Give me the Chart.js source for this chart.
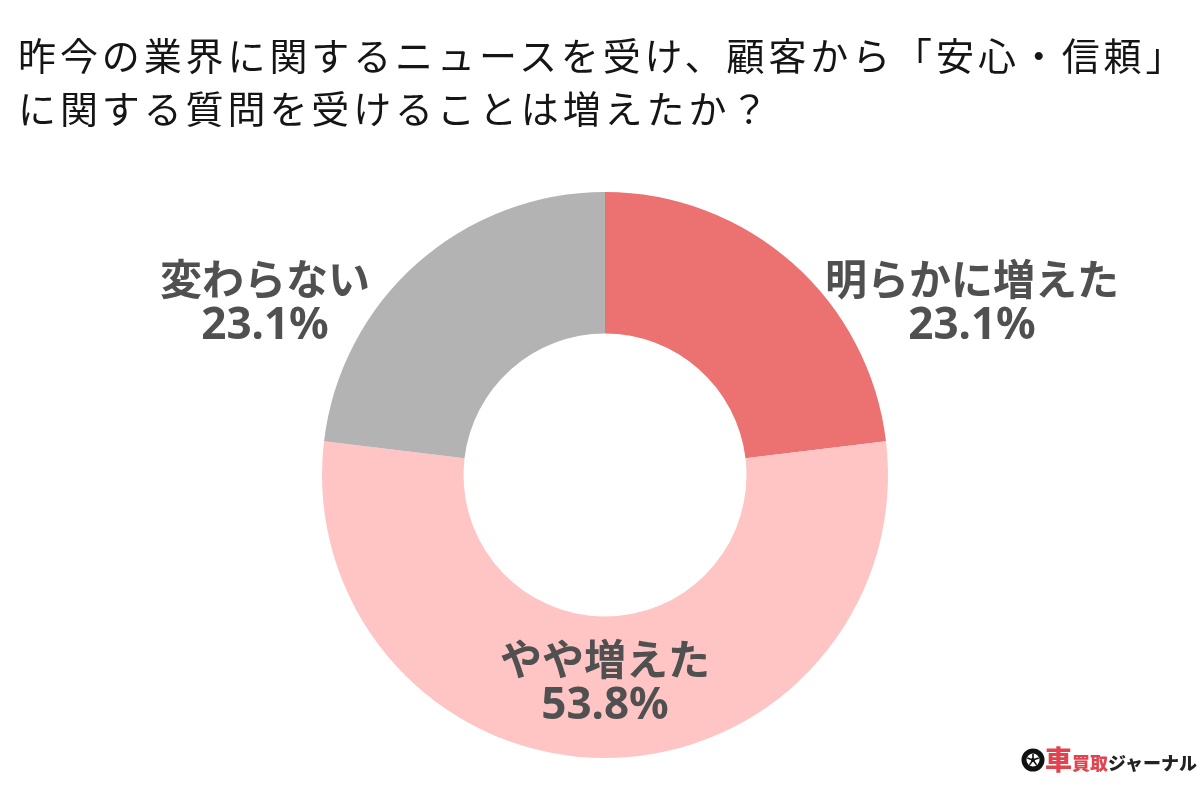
<!DOCTYPE html>
<html lang="ja">
<head>
<meta charset="utf-8">
<style>
  html, body { margin: 0; padding: 0; background: #fff; }
  #wrap { position: relative; width: 1200px; height: 800px; overflow: hidden; }
  canvas { position: absolute; left: 0; top: 0; }
  .title { position: absolute; left: 18px; top: 27px; font: 400 38px/53px "Noto Sans CJK JP"; color: #151515; white-space: nowrap; letter-spacing: 3.9px; }
  .brand { position: absolute; left: 1045px; top: 742px; height: 34px; line-height: 34px; font-family: "Noto Sans CJK JP"; font-weight: 900; color: #222; white-space: nowrap; }
  .brand b { color: #e2434f; font-size: 27px; font-weight: 900; }
  .brand i { color: #e2434f; font-size: 18px; font-style: normal; }
  .brand span { font-size: 18px; }
  .brand svg { position: absolute; left: -24px; top: 6px; }
</style>
<script src="https://cdn.jsdelivr.net/npm/chart.js@4"></script>
</head>
<body>
<div id="wrap">
  <canvas id="chart" width="1200" height="800"></canvas>
  <div class="title" id="title"></div>
  <div class="brand">
    <svg width="24" height="24" viewBox="0 0 24 24"><circle cx="12" cy="12" r="9" fill="none" stroke="#111" stroke-width="5"/><path d="M12 12V6M12 12L17.7 10.1M12 12L15.5 16.9M12 12L8.5 16.9M12 12L6.3 10.1" stroke="#111" stroke-width="1.6"/><circle cx="12" cy="12" r="2" fill="#111"/></svg>
    <b>車</b><i>買取</i><span>ジャーナル</span>
  </div>
</div>
<script>
const titleLines = ['昨今の業界に関するニュースを受け、顧客から「安心・信頼」', 'に関する質問を受けることは増えたか？'];
const categories = ['明らかに増えた', 'やや増えた', '変わらない'];
const values = [23.1, 53.8, 23.1];
const colors = ['#ec7171', '#ffc4c4', '#b3b3b3'];
const labelSpots = [[972, 279], [605, 659], [265, 279]];

document.getElementById('title').innerHTML = titleLines.join('<br>');

// ラベルはプラグインで描画
const labelPlugin = {
    id: 'sliceLabels',
    afterDatasetsDraw(chart) {
        const ctx = chart.ctx;
        ctx.save();
        ctx.fillStyle = '#505050';
        ctx.textAlign = 'center';
        ctx.textBaseline = 'middle';
        categories.forEach((name, i) => {
            const [x, y] = labelSpots[i];
            ctx.font = '700 42px "Noto Sans CJK JP"';
            ctx.fillText(name, x, y);
            ctx.font = '700 44px "Noto Sans"';
            ctx.fillText(values[i].toFixed(1) + '%', x, y + 47);
        });
        ctx.restore();
    }
};

new Chart(document.getElementById('chart'), {
    type: 'doughnut',
    data: {
        labels: categories,
        datasets: [{ data: values, backgroundColor: colors, borderWidth: 0 }]
    },
    options: {
        responsive: false,
        animation: false,
        cutout: '50%',
        layout: { padding: { left: 322, right: 312, top: 192, bottom: 42 } },
        plugins: { legend: { display: false }, tooltip: { enabled: false } }
    },
    plugins: [labelPlugin]
});
</script>
</body>
</html>
